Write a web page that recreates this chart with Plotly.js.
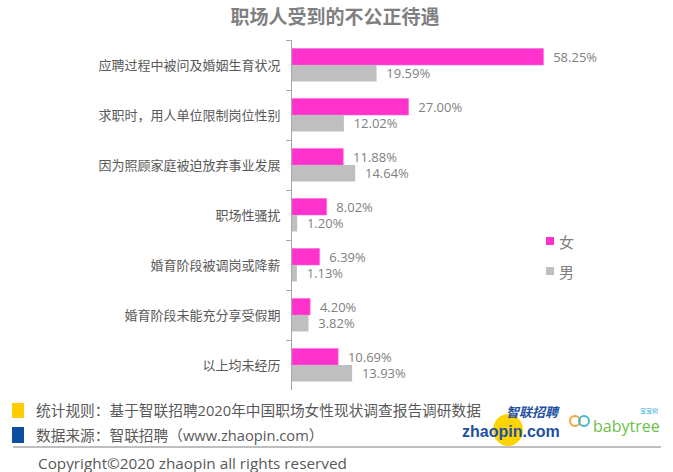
<!DOCTYPE html>
<html>
<head>
<meta charset="utf-8">
<script src="https://cdn.plot.ly/plotly-3.0.1.min.js"></script>
<style>html,body{margin:0;padding:0;background:#fff;}#chart{width:673px;height:472px;}</style>
</head>
<body>
<div id="chart"></div>
<script>
const categories = ["应聘过程中被问及婚姻生育状况","求职时，用人单位限制岗位性别","因为照顾家庭被迫放弃事业发展","职场性骚扰","婚育阶段被调岗或降薪","婚育阶段未能充分享受假期","以上均未经历"];
const femaleValues = [58.25, 27.00, 11.88, 8.02, 6.39, 4.20, 10.69];
const maleValues = [19.59, 12.02, 14.64, 1.20, 1.13, 3.82, 13.93];
const seriesNames = ["女", "男"];
const titleText = "职场人受到的不公正待遇";
const noteRule = "统计规则：基于智联招聘2020年中国职场女性现状调查报告调研数据";
const noteSource = "数据来源：智联招聘（www.zhaopin.com）";
const copyrightText = "Copyright©2020 zhaopin all rights reserved";

const FEMALE = "#FF33CC", MALE = "#BFBFBF";
const FONT = "'Open Sans', 'Noto Sans CJK SC', sans-serif";
const CJK = "'Noto Sans CJK SC', sans-serif";

// page-pixel -> paper conversion for decorations
const L = 292, R = 40, T = 40, B = 82, W = 673, H = 472;
const PW = W - L - R, PH = H - T - B;
const px = X => (X - L) / PW;
const py = Y => (H - B - Y) / PH;

const common = {
  type: "bar", orientation: "h", y: categories,
  textposition: "outside", cliponaxis: false, constraintext: "none",
  texttemplate: "\u00a0\u00a0%{x:.2f}%",
  textfont: {family: FONT, size: 13, color: "#7F7F7F"},
  hoverinfo: "skip", showlegend: false
};
const traces = [
  Object.assign({}, common, {name: seriesNames[0], x: femaleValues, marker: {color: FEMALE, line: {color: "#FF66DD", width: 0.6}}}),
  Object.assign({}, common, {name: seriesNames[1], x: maleValues, marker: {color: MALE}})
];

const shapes = [
  // legend squares
  {type: "rect", xref: "paper", yref: "paper", x0: px(546), x1: px(554), y0: py(237), y1: py(245), fillcolor: FEMALE, line: {width: 0}},
  {type: "rect", xref: "paper", yref: "paper", x0: px(546), x1: px(554), y0: py(267), y1: py(275), fillcolor: MALE, line: {width: 0}},
  // footer squares
  {type: "rect", xref: "paper", yref: "paper", x0: px(12), x1: px(24), y0: py(403), y1: py(418), fillcolor: "#FFCC00", line: {width: 0}},
  {type: "rect", xref: "paper", yref: "paper", x0: px(12), x1: px(24), y0: py(427), y1: py(443), fillcolor: "#0B4EA2", line: {width: 0}},
  // zhaopin logo circle
  {type: "circle", xref: "paper", yref: "paper", x0: px(493), x1: px(523), y0: py(414), y1: py(446), fillcolor: "#FFD400", line: {width: 0}, layer: "above"},
  // babytree icon rings
  {type: "circle", xref: "paper", yref: "paper", x0: px(570), x1: px(580), y0: py(416), y1: py(426), fillcolor: "rgba(0,0,0,0)", line: {color: "#F2A33A", width: 2}},
  {type: "circle", xref: "paper", yref: "paper", x0: px(579), x1: px(589), y0: py(416), y1: py(426), fillcolor: "rgba(0,0,0,0)", line: {color: "#46B7D0", width: 2}},
  // footer rule
  {type: "line", xref: "paper", yref: "paper", x0: px(13), x1: px(661), y0: py(447), y1: py(447), line: {color: "#7F7F7F", width: 1}}
];

const ann = (X, Y, text, font, anchor) => ({xref: "paper", yref: "paper", x: px(X), y: py(Y), text: text, showarrow: false, xanchor: anchor || "left", yanchor: "middle", font: font, borderpad: 0});
const annotations = [
  ann(558, 241, seriesNames[0], {family: CJK, size: 15, color: "#7F7F7F"}),
  ann(558, 271, seriesNames[1], {family: CJK, size: 15, color: "#7F7F7F"}),
  ann(35, 410, noteRule, {family: FONT, size: 14.7, color: "#595959"}),
  ann(35, 435, noteSource, {family: FONT, size: 14.7, color: "#595959"}),
  ann(37, 463, copyrightText, {family: FONT, size: 15.3, color: "#595959"}),
  ann(533, 411, "<i><b>智联招聘</b></i>", {family: CJK, size: 13, color: "#1E50A2"}, "center"),
  ann(511, 431, "<b>zhaopin.com</b>", {family: "'Liberation Sans', sans-serif", size: 16, color: "#1E50A2"}, "center"),
  ann(626, 426, "babytree", {family: "'Open Sans', sans-serif", size: 16, color: "#6CBF4A"}, "center"),
  ann(649, 410, "宝宝树", {family: CJK, size: 6, color: "#3CB0E0"}, "center")
];

const layout = {
  width: W, height: H,
  margin: {l: L, r: R, t: T, b: B, pad: 0},
  paper_bgcolor: "#FFFFFF", plot_bgcolor: "#FFFFFF",
  title: {text: titleText, x: 335 / W, xref: "container", xanchor: "center", y: 1 - 17 / H, yref: "container", yanchor: "middle",
          font: {family: CJK, size: 19, color: "#7F7F7F", weight: "bold"}},
  barmode: "group", bargap: 0.34, bargroupgap: 0,
  xaxis: {range: [0, 79], visible: false, fixedrange: true},
  yaxis: {type: "category", autorange: "reversed", showline: true, linecolor: "#A6A6A6", linewidth: 1,
          ticks: "outside", tickson: "boundaries", ticklen: 5, tickcolor: "#A6A6A6", ticklabelstandoff: 8,
          tickfont: {family: CJK, size: 13, color: "#595959"}, showgrid: false, zeroline: false, fixedrange: true},
  shapes: shapes, annotations: annotations,
  showlegend: false
};

Plotly.newPlot("chart", traces, layout, {displayModeBar: false, staticPlot: true});
</script>
</body>
</html>
